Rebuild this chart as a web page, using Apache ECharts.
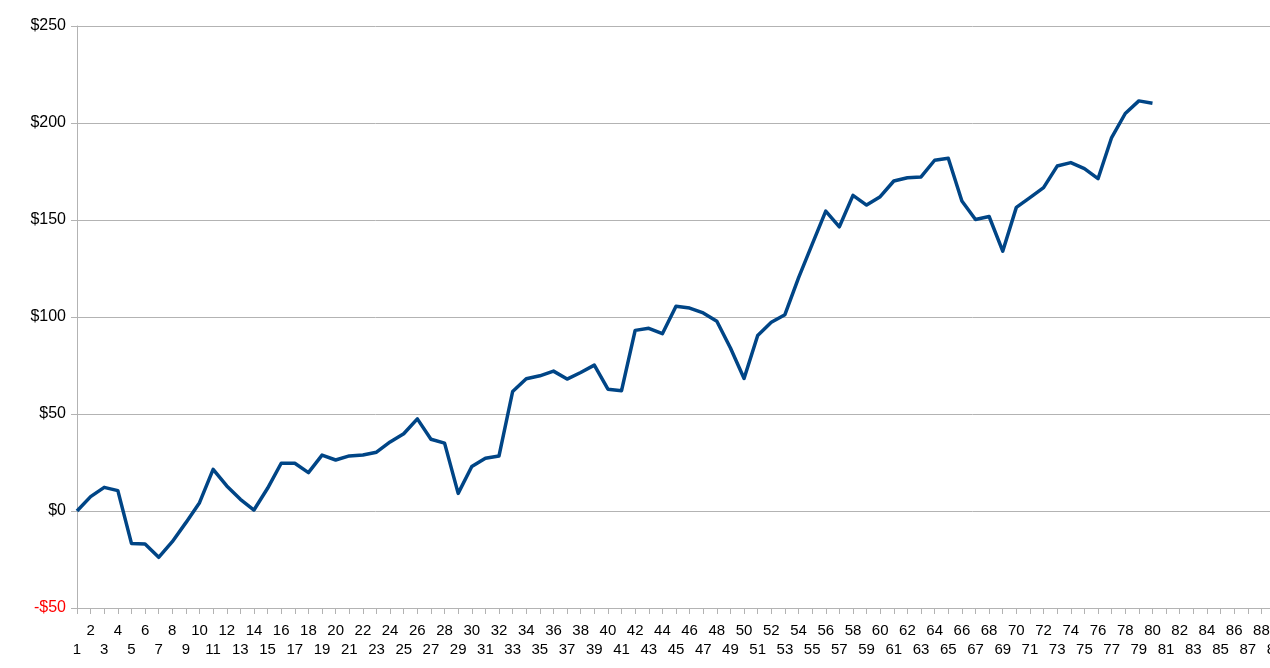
<!DOCTYPE html>
<html>
<head>
<meta charset="utf-8">
<script src="https://cdn.jsdelivr.net/npm/echarts@6/dist/echarts.min.js"></script>
<style>
  html, body { margin: 0; padding: 0; background: #fff; }
  #chart { width: 1270px; height: 668px; }
</style>
</head>
<body>
<div id="chart"></div>
<script>
// x categories 1..89 (the chart runs past the right edge)
const categories = [];
for (let i = 1; i <= 89; i++) categories.push(String(i));

// running balance
const balance = [
  0, 7.4, 12.2, 10.5, -16.7, -17.0, -23.9, -15.8, -6.0, 4.3,
  21.5, 12.9, 6.0, 0.5, 11.7, 24.6, 24.6, 19.8, 28.8, 26.3,
  28.4, 28.9, 30.3, 35.6, 39.8, 47.5, 37.0, 35.0, 9.1, 22.9,
  27.2, 28.4, 61.6, 68.2, 69.7, 72.1, 68.0, 71.4, 75.2, 62.8,
  62.0, 93.1, 94.2, 91.4, 105.5, 104.6, 102.1, 97.8, 84.0, 68.3,
  90.5, 97.3, 101.2, 120.2, 137.4, 154.6, 146.5, 162.7, 157.7, 162.0,
  170.1, 171.8, 172.2, 180.8, 181.8, 159.8, 150.3, 151.8, 133.9, 156.5,
  161.5, 166.7, 177.8, 179.6, 176.5, 171.3, 192.5, 204.9, 211.4, 210.2
];

const yMin = -50, yMax = 250, yStep = 50;

const chart = echarts.init(document.getElementById('chart'));
chart.setOption({
  animation: false,
  grid: { left: 77, top: 26, width: 1198, height: 582, outerBoundsMode: 'none', containLabel: false },
  xAxis: {
    type: 'category',
    data: categories,
    boundaryGap: false,
    axisLine: { onZero: false, lineStyle: { color: '#b3b3b3', width: 1 } },
    axisTick: { show: true, length: 6, interval: 0, lineStyle: { color: '#b3b3b3' } },
    axisLabel: {
      interval: 0,
      margin: 13,
      fontFamily: 'Liberation Sans',
      fontSize: 15,
      lineHeight: 19,
      color: '#000',
      formatter: v => (Number(v) % 2 === 1 ? '\n' + v : v)
    },
    splitLine: { show: false }
  },
  yAxis: {
    type: 'value',
    min: yMin,
    max: yMax,
    interval: yStep,
    axisLine: { show: true, lineStyle: { color: '#b3b3b3', width: 1 } },
    axisTick: { show: true, length: 6, lineStyle: { color: '#b3b3b3' } },
    axisLabel: {
      margin: 11,
      fontFamily: 'Liberation Sans',
      fontSize: 16,
      color: v => (v < 0 ? '#ff0000' : '#000'),
      formatter: v => (v < 0 ? '-$' + Math.abs(v) : '$' + v)
    },
    splitLine: { lineStyle: { color: '#b3b3b3', width: 1 } }
  },
  series: [{
    type: 'line',
    data: balance,
    showSymbol: false,
    symbol: 'none',
    lineStyle: { color: '#004586', width: 3.5, join: 'round' },
    itemStyle: { color: '#004586' }
  }]
});
</script>
</body>
</html>
